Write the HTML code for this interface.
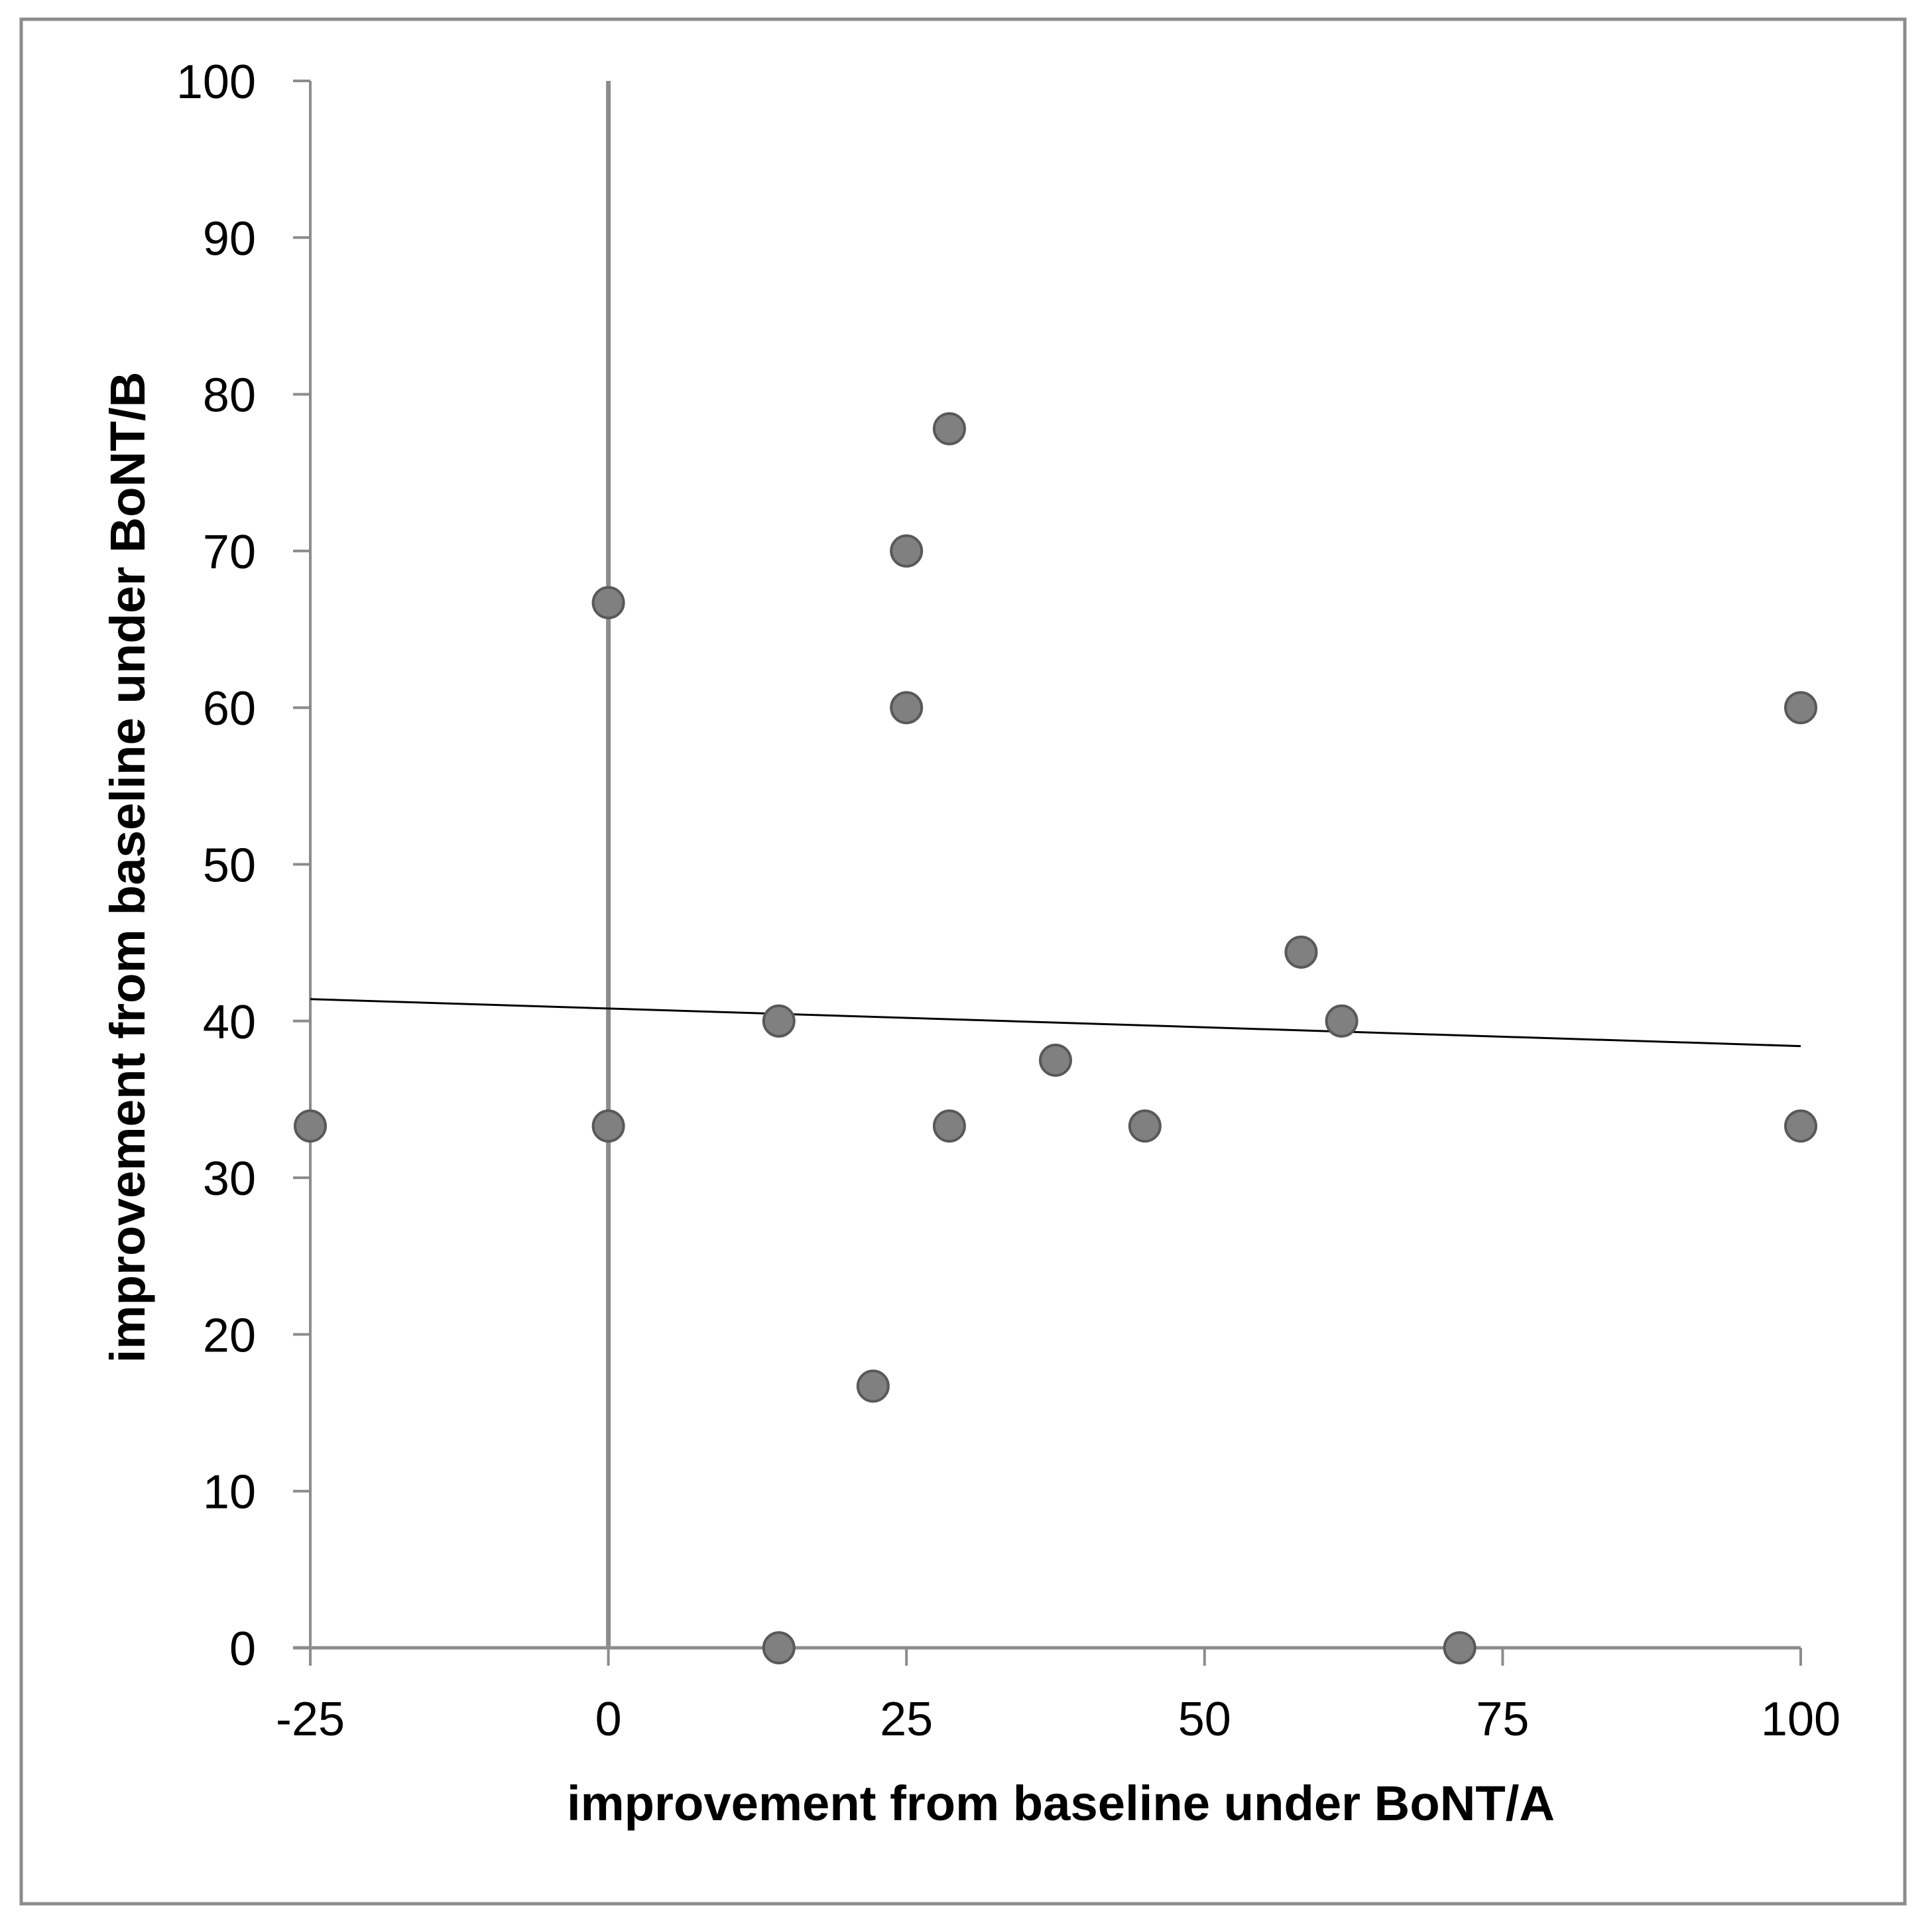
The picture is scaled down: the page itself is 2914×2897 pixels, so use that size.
<!DOCTYPE html>
<html><head><meta charset="utf-8"><style>
html,body{margin:0;padding:0;background:#fff}
svg{display:block}
text{font-family:"Liberation Sans",sans-serif;fill:#000}
</style></head><body>
<svg id="chart" width="2914" height="2897" viewBox="0 0 2914 2897" xmlns="http://www.w3.org/2000/svg">
<rect x="32" y="29" width="2841" height="2842" fill="#fff" stroke="#8c8c8c" stroke-width="5"/>
<g id="axes"></g>
<g id="marks"></g>
<text x="1600" y="2745" font-size="74" font-weight="bold" text-anchor="middle" textLength="1490" lengthAdjust="spacingAndGlyphs">improvement from baseline under BoNT/A</text>
<text transform="translate(218,1308) rotate(-90)" font-size="74" font-weight="bold" text-anchor="middle" textLength="1495" lengthAdjust="spacingAndGlyphs">improvement from baseline under BoNT/B</text>
</svg>
<script>
const xTicks = [-25, 0, 25, 50, 75, 100];
const yTicks = [0, 10, 20, 30, 40, 50, 60, 70, 80, 90, 100];
const xValues = [-25, 0, 0, 14.3, 14.3, 22.2, 25, 25, 28.6, 28.6, 37.5, 45, 58.1, 61.5, 71.4, 100, 100];
const yValues = [33.3, 66.7, 33.3, 40, 0, 16.7, 70, 60, 77.8, 33.3, 37.5, 33.3, 44.4, 40, 0, 60, 33.3];
const trendX = [-25, 100];
const trendY = [41.4, 38.4];

const X0 = 468, X1 = 2716, Y0 = 2485, Y1 = 122;
const sx = v => X0 + (v - (-25)) / 125 * (X1 - X0);
const sy = v => Y0 - v / 100 * (Y0 - Y1);
const NS = 'http://www.w3.org/2000/svg';
function mk(tag, attrs, parent) {
  const e = document.createElementNS(NS, tag);
  for (const k in attrs) e.setAttribute(k, attrs[k]);
  parent.appendChild(e);
  return e;
}
const axes = document.getElementById('axes');
const marks = document.getElementById('marks');
const G = '#8c8c8c';

// y axis
let yl = mk('line', {x1: sx(-25), y1: sy(0), x2: sx(-25), y2: sy(100), stroke: G, 'stroke-width': 4}, axes);


yTicks.forEach(t => {
  const tk = mk('line', {x1: sx(-25) - 26, y1: sy(t), x2: sx(-25), y2: sy(t), stroke: G, 'stroke-width': 4}, axes);
  
  
  const lb = mk('text', {x: 386, y: sy(t) + 26, 'font-size': 72, 'text-anchor': 'end'}, axes);
  
  
  lb.textContent = t;
});
// x axis
let xl = mk('line', {x1: sx(-25) - 26, y1: sy(0), x2: sx(100), y2: sy(0), stroke: G, 'stroke-width': 5}, axes);


xTicks.forEach(t => {
  const tk = mk('line', {x1: sx(t), y1: sy(0), x2: sx(t), y2: sy(0) + 27, stroke: G, 'stroke-width': 4}, axes);
  
  
  const lb = mk('text', {x: sx(t), y: 2617, 'font-size': 72, 'text-anchor': 'middle'}, axes);
  
  
  lb.textContent = t;
});
// vertical zero line
let vz = mk('line', {x1: sx(0), y1: sy(0), x2: sx(0), y2: sy(100), stroke: G, 'stroke-width': 7}, axes);



// trend line
let tl = mk('line', {x1: sx(trendX[0]), y1: sy(trendY[0]), x2: sx(trendX[1]), y2: sy(trendY[1]), stroke: '#000', 'stroke-width': 3}, marks);



xValues.forEach((xv, i) => {
  const c = mk('circle', {cx: sx(xv), cy: sy(yValues[i]), r: 23, fill: '#808080', stroke: '#595959', 'stroke-width': 4}, marks);
  
  
});
</script>
</body></html>
